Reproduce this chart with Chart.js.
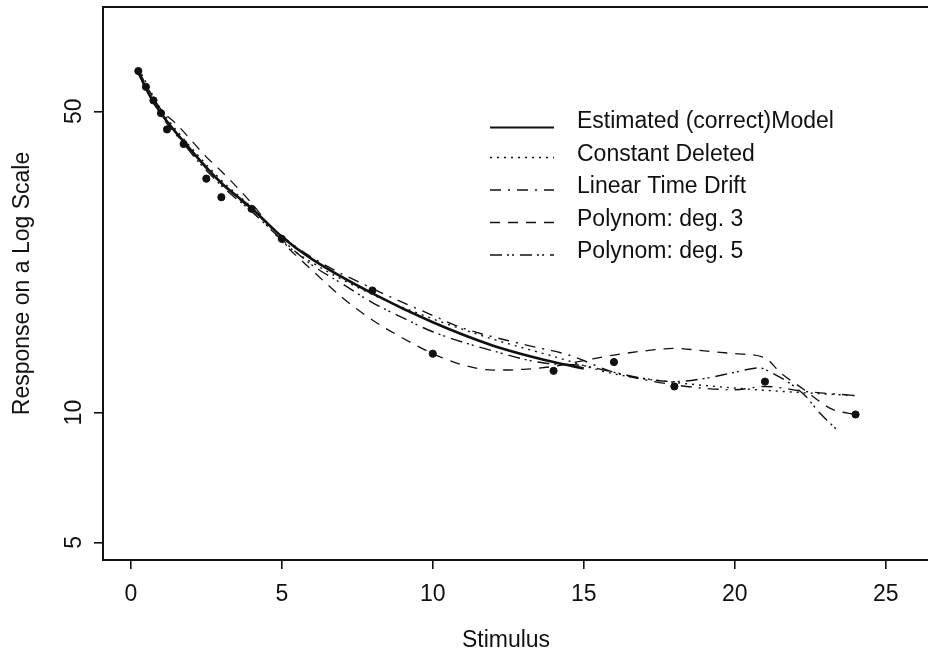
<!DOCTYPE html>
<html><head><meta charset="utf-8">
<script src="https://cdn.jsdelivr.net/npm/chart.js@4/dist/chart.umd.min.js"></script>
<style>
html,body{margin:0;padding:0;overflow:hidden;background:#fff;width:928px;height:658px}
#wrap{position:absolute;left:0;top:0;width:940px;height:658px}
</style></head>
<body><div id="wrap"><canvas id="c" width="940" height="658"></canvas></div>
<script>
// ---- data ----
const obsX = [0.25, 0.5, 0.75, 1, 1.2, 1.75, 2.5, 3, 4, 5, 8, 10, 14, 16, 18, 21, 24];
const obsY = [62, 57, 53, 49.5, 45.4, 42, 34.9, 31.6, 29.7, 25.3, 19.2, 13.7, 12.5, 13.1, 11.5, 11.8, 9.9];

const estX = [0.25, 0.5, 1, 2, 3, 4, 5, 6, 8, 10, 12, 14, 15];
const estY = [62, 56.5, 49.5, 40.6, 34.1, 29.8, 25.6, 22.7, 18.9, 16.2, 14.3, 13.1, 12.66];

const cdX = [0.25, 1, 2, 3, 4, 5, 6, 8, 10, 12, 14, 16, 18, 20, 22, 24];
const cdY = [63, 50.5, 41.2, 34.6, 29.9, 25.0, 22.3, 18.8, 16.5, 14.8, 13.5, 12.3, 11.75, 11.4, 11.15, 10.95];

const ltX = [0.25, 1, 2, 3, 4, 5, 6, 8, 10, 11, 13, 14.5, 16, 18, 20, 21, 22.3, 24];
const ltY = [61, 49, 40.3, 34, 29.6, 25.7, 22.9, 19.4, 16.8, 15.7, 14.4, 13.6, 12.4, 11.6, 11.3, 11.5, 11.2, 10.95];

const p3X = [0.25, 1, 1.5, 2.5, 3, 4, 5, 6, 7, 8, 9, 10, 11, 12, 13, 14, 15, 16, 17, 18, 19, 20, 21, 21.5, 22.3, 23.2, 24];
const p3Y = [62, 50.5, 46.8, 39.2, 36.3, 30.6, 25.0, 21.4, 18.5, 16.4, 14.9, 13.7, 12.9, 12.55, 12.6, 12.8, 13.2, 13.6, 13.9, 14.1, 13.9, 13.7, 13.4, 12.4, 11.3, 10.2, 9.9];

const p5X = [0.25, 1, 2, 3, 4, 5, 6, 7, 8, 9, 10, 12, 13.8, 14.8, 16, 17, 18, 19, 20, 20.8, 21.1, 22.3, 22.8, 23.4];
const p5Y = [62, 50, 40, 33.6, 29.3, 25.2, 22.0, 19.9, 18.0, 16.6, 15.4, 13.9, 13.0, 12.9, 12.4, 12.0, 11.8, 12.0, 12.4, 12.7, 12.5, 11.0, 10.0, 9.1];

const xTicks = [0, 5, 10, 15, 20, 25];
const yTicks = [5, 10, 50];
const seriesNames = ["Estimated (correct)Model", "Constant Deleted", "Linear Time Drift", "Polynom: deg. 3", "Polynom: deg. 5"];
const xTitle = "Stimulus";
const yTitle = "Response on a Log Scale";

// ---- build ----
const pts = (xs, ys) => xs.map((x, i) => ({x, y: ys[i]}));
const FONT = "'Liberation Sans', Arial, Helvetica, sans-serif";
const INK = '#111';
const styles = [
  {w: 2.6, dash: []},
  {w: 1.4, dash: [2, 5]},
  {w: 1.4, dash: [11, 7, 2, 7]},
  {w: 1.3, dash: [10, 8]},
  {w: 1.4, dash: [12, 5, 2, 3, 2, 6]}
];
const lineSets = [[estX, estY], [cdX, cdY], [ltX, ltY], [p3X, p3Y], [p5X, p5Y]];

const datasets = lineSets.map((s, i) => ({
  type: 'line', label: seriesNames[i], data: pts(s[0], s[1]),
  borderColor: INK, borderWidth: styles[i].w, borderDash: styles[i].dash,
  pointRadius: 0, fill: false, cubicInterpolationMode: 'monotone', borderCapStyle: 'butt'
}));
datasets.push({
  type: 'scatter', label: 'Observed', data: pts(obsX, obsY),
  pointRadius: 3.6, pointBackgroundColor: INK, pointBorderColor: INK, showLine: false
});

const decor = {
  id: 'decor',
  afterDraw(chart) {
    const {ctx, chartArea: a} = chart;
    ctx.save();
    ctx.strokeStyle = INK; ctx.lineWidth = 2; ctx.setLineDash([]);
    ctx.strokeRect(a.left, a.top, a.right - a.left, a.bottom - a.top);
    // legend
    const lx0 = 490, lx1 = 554, tx = 577;
    const rowY = [121.5, 154.5, 187, 219.5, 252];
    ctx.font = "23px " + FONT;
    ctx.fillStyle = INK; ctx.textBaseline = 'middle'; ctx.textAlign = 'left';
    seriesNames.forEach((n, i) => {
      const y = rowY[i] + (i === 0 ? 6 : 3);
      ctx.beginPath();
      ctx.lineWidth = i === 0 ? 2.2 : 1.4;
      ctx.setLineDash(styles[i].dash);
      ctx.moveTo(lx0, y); ctx.lineTo(lx1, y); ctx.stroke();
      ctx.setLineDash([]);
      ctx.fillText(n, tx, rowY[i]);
    });
    // x title
    ctx.textAlign = 'center';
    ctx.fillText(xTitle, 506, 641);
    ctx.restore();
  }
};

new Chart(document.getElementById('c'), {
  data: {datasets},
  options: {
    responsive: false, animation: false, devicePixelRatio: 1,
    layout: {padding: {left: 0, top: 7, right: 0, bottom: 0}},
    plugins: {legend: {display: false}, tooltip: {enabled: false}},
    scales: {
      x: {
        type: 'linear', min: -0.92, max: 26.63,
        afterBuildTicks: s => { s.ticks = xTicks.map(v => ({value: v})); },
        afterFit: s => { s.height = 98; s.paddingLeft = 0; s.paddingRight = 0; },
        grid: {display: true, drawOnChartArea: false, drawTicks: true, tickLength: 9, color: INK, lineWidth: 1.6},
        border: {display: false},
        ticks: {color: INK, font: {size: 23, family: FONT}, padding: 12, maxRotation: 0, minRotation: 0},
        title: {display: false}
      },
      y: {
        type: 'logarithmic', min: 4.55, max: 87.3,
        afterBuildTicks: s => { s.ticks = yTicks.map(v => ({value: v})); },
        afterFit: s => { s.width = 103; s.paddingTop = 0; s.paddingBottom = 0; },
        grid: {display: true, drawOnChartArea: false, drawTicks: true, tickLength: 9, color: INK, lineWidth: 1.6},
        border: {display: false},
        ticks: {color: INK, font: {size: 23, family: FONT}, padding: 7, minRotation: 90, maxRotation: 90,
                crossAlign: 'center', callback: v => String(v)},
        title: {display: true, text: yTitle, color: INK, font: {size: 23, family: FONT}, padding: {top: 9, bottom: 0}}
      }
    }
  },
  plugins: [decor]
});
</script>
</body></html>
